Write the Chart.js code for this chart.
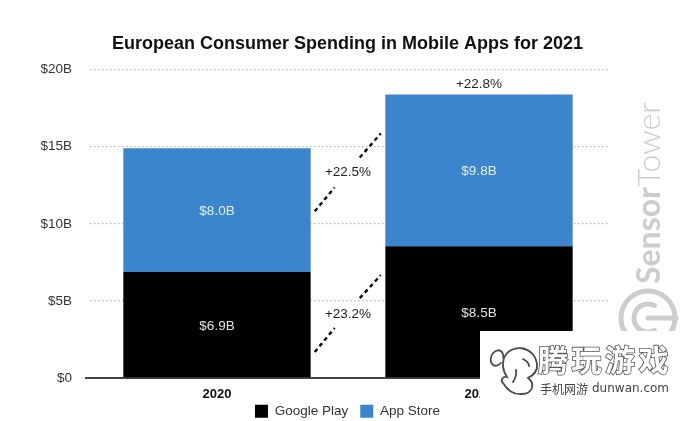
<!DOCTYPE html>
<html><head><meta charset="utf-8">
<style>html,body{margin:0;padding:0;background:#fff}#w{width:690px;height:421px;position:relative}</style>
<script src="https://cdn.jsdelivr.net/npm/chart.js@4"></script>
</head><body><div id="w"><canvas id="c" width="690" height="421"></canvas></div>
<script>
const categories = ['2020', '2021'];
const googlePlay = [6.87, 8.54];
const appStore = [8.03, 9.84];
const googlePlayLabels = ['$6.9B', '$8.5B'];
const appStoreLabels = ['$8.0B', '$9.8B'];
const growthTotal = '+22.8%';
const growthLabels = ['+22.5%', '+23.2%'];
const connectorSegments = [
  [[0.373, 10.81], [0.449, 12.36]],
  [[0.545, 14.3], [0.625, 15.86]],
  [[0.373, 1.68], [0.449, 3.24]],
  [[0.545, 5.18], [0.625, 6.67]]
];
const FONT = '"Liberation Sans", Arial, sans-serif';

const overlay = {
  id: 'overlay',
  afterLayout(ch) { ch.legend.top -= 12; },
  beforeDatasetsDraw(ch) {
    const a = ch.chartArea, c = ch.ctx;
    c.save(); c.fillStyle = '#fff';
    c.fillRect(a.left, a.top - 3, 4, a.bottom - a.top);
    c.restore();
  },
  afterDatasetsDraw(ch) {
    const c = ch.ctx, X = ch.scales.x, Y = ch.scales.y;
    c.save();
    c.textAlign = 'center'; c.textBaseline = 'middle';
    c.font = '13.5px ' + FONT;
    [[googlePlay, googlePlayLabels, 0], [appStore, appStoreLabels, 1]].forEach(([vals, labs, k]) => {
      vals.forEach((v, i) => {
        const base = k ? googlePlay[i] : 0;
        c.fillStyle = k ? '#e4eef8' : '#e2e2e2';
        c.fillText(labs[i], X.getPixelForValue(i), Y.getPixelForValue(base + v / 2) + 1);
      });
    });
    c.fillStyle = '#222';
    c.fillText(growthTotal, X.getPixelForValue(1), Y.getPixelForValue(googlePlay[1] + appStore[1]) - 10);
    c.fillText(growthLabels[0], X.getPixelForValue(0.5), Y.getPixelForValue(13.33));
    c.fillText(growthLabels[1], X.getPixelForValue(0.5), Y.getPixelForValue(4.14));
    c.strokeStyle = '#000'; c.lineWidth = 2.4; c.setLineDash([4, 3.5]);
    connectorSegments.forEach(l => {
      c.beginPath();
      c.moveTo(X.getPixelForValue(l[0][0]), Y.getPixelForValue(l[0][1]));
      c.lineTo(X.getPixelForValue(l[1][0]), Y.getPixelForValue(l[1][1]));
      c.stroke();
    });
    c.restore();
  },
  afterDraw(ch) {
    const c = ch.ctx;
    c.save();
    c.translate(660, 284); c.rotate(-Math.PI / 2);
    c.textAlign = 'left'; c.textBaseline = 'alphabetic';
    c.fillStyle = '#cdcdcd';
    c.font = 'bold 32px Lato, sans-serif';
    c.fillText('Sensor', 0, 0);
    const w = c.measureText('Sensor').width;
    c.font = '300 32px Lato, sans-serif';
    c.fillText('Tower', w, 0);
    c.restore();
    c.save();
    c.strokeStyle = '#cdcdcd'; c.lineWidth = 5; c.lineCap = 'round';
    c.beginPath(); c.arc(648, 318, 27, 0, Math.PI * 2); c.stroke();
    c.beginPath(); c.arc(648, 318, 14, Math.PI * 0.35, Math.PI * 1.65); c.stroke();
    c.beginPath(); c.moveTo(648, 318); c.lineTo(676, 318); c.stroke();
    c.fillStyle = '#fff'; c.fillRect(480, 331, 210, 90);
    // mascot
    c.strokeStyle = '#4a4a4a'; c.lineWidth = 1.8; c.lineCap = 'round';
    c.beginPath(); c.ellipse(497, 358, 6, 8, 0.4, 0.4, Math.PI * 1.9); c.stroke();
    c.beginPath();
    c.moveTo(504, 358);
    c.bezierCurveTo(510, 343, 534, 345, 537, 364);
    c.bezierCurveTo(538, 372, 532, 376, 528, 378);
    c.bezierCurveTo(536, 384, 532, 394, 522, 394);
    c.bezierCurveTo(514, 395, 508, 391, 503, 383);
    c.bezierCurveTo(500, 380, 503, 376, 507, 377);
    c.bezierCurveTo(503, 371, 502, 364, 504, 358);
    c.stroke();
    c.beginPath(); c.moveTo(513, 382); c.quadraticCurveTo(517, 376, 516, 370); c.stroke();
    c.beginPath(); c.moveTo(523, 359); c.quadraticCurveTo(529, 362, 529, 366); c.stroke();
    c.textAlign = 'left'; c.textBaseline = 'middle';
    c.font = 'bold 30px "Noto Sans CJK SC", sans-serif';
    c.lineWidth = 1.6; c.strokeStyle = '#555'; c.fillStyle = '#fff';
    ['腾', '玩', '游', '戏'].forEach((t, i) => {
      c.strokeText(t, 538 + i * 33.5, 360); c.fillText(t, 538 + i * 33.5, 360);
    });
    c.font = '12px "Noto Sans CJK SC", sans-serif';
    c.fillStyle = '#444';
    c.fillText('手机网游', 540, 389);
    c.font = '12px "DejaVu Sans", sans-serif';
    c.fillText('dunwan.com', 592, 389);
    c.restore();
  }
};

new Chart(document.getElementById('c'), {
  type: 'bar',
  data: {
    labels: categories,
    datasets: [
      { label: 'Google Play', data: googlePlay, backgroundColor: '#000000', categoryPercentage: 1, barPercentage: 0.715 },
      { label: 'App Store', data: appStore, backgroundColor: '#3a85cb', categoryPercentage: 1, barPercentage: 0.715 }
    ]
  },
  plugins: [overlay],
  options: {
    responsive: false, animation: false,
    layout: { padding: { left: 5, right: 0, top: 0, bottom: -19 } },
    plugins: {
      title: { display: true, text: 'European Consumer Spending in Mobile Apps for 2021', color: '#111',
        font: { family: FONT, size: 18, weight: 'bold' }, padding: { top: 33, bottom: 15 } },
      legend: { position: 'bottom', labels: { boxWidth: 13, boxHeight: 13, padding: 12, color: '#333', font: { family: FONT, size: 13.5 } } },
      tooltip: { enabled: false }
    },
    scales: {
      x: { stacked: true, grid: { display: false, drawTicks: false },
        afterFit(s) { s.height = 26.5; },
        border: { color: '#444', width: 2 },
        ticks: { color: '#111', padding: 9, font: { family: FONT, size: 13, weight: 'bold' } } },
      y: { stacked: true, min: 0, max: 20, afterFit(s) { s.width = 81; },
        border: { display: false, dash: [1.4, 2.6] },
        grid: { color: c => c.tick.value === 0 ? 'rgba(0,0,0,0)' : '#b5b5b5', lineWidth: 1.3, drawTicks: false },
        ticks: { stepSize: 5, padding: 14, color: '#333', font: { family: FONT, size: 13.5 },
          callback: v => v === 0 ? '$0' : '$' + v + 'B' } },
      yr: { position: 'right', display: true, afterFit(s) { s.width = 80; },
        border: { display: false }, grid: { display: false }, ticks: { display: false } }
    }
  }
});
</script></body></html>
